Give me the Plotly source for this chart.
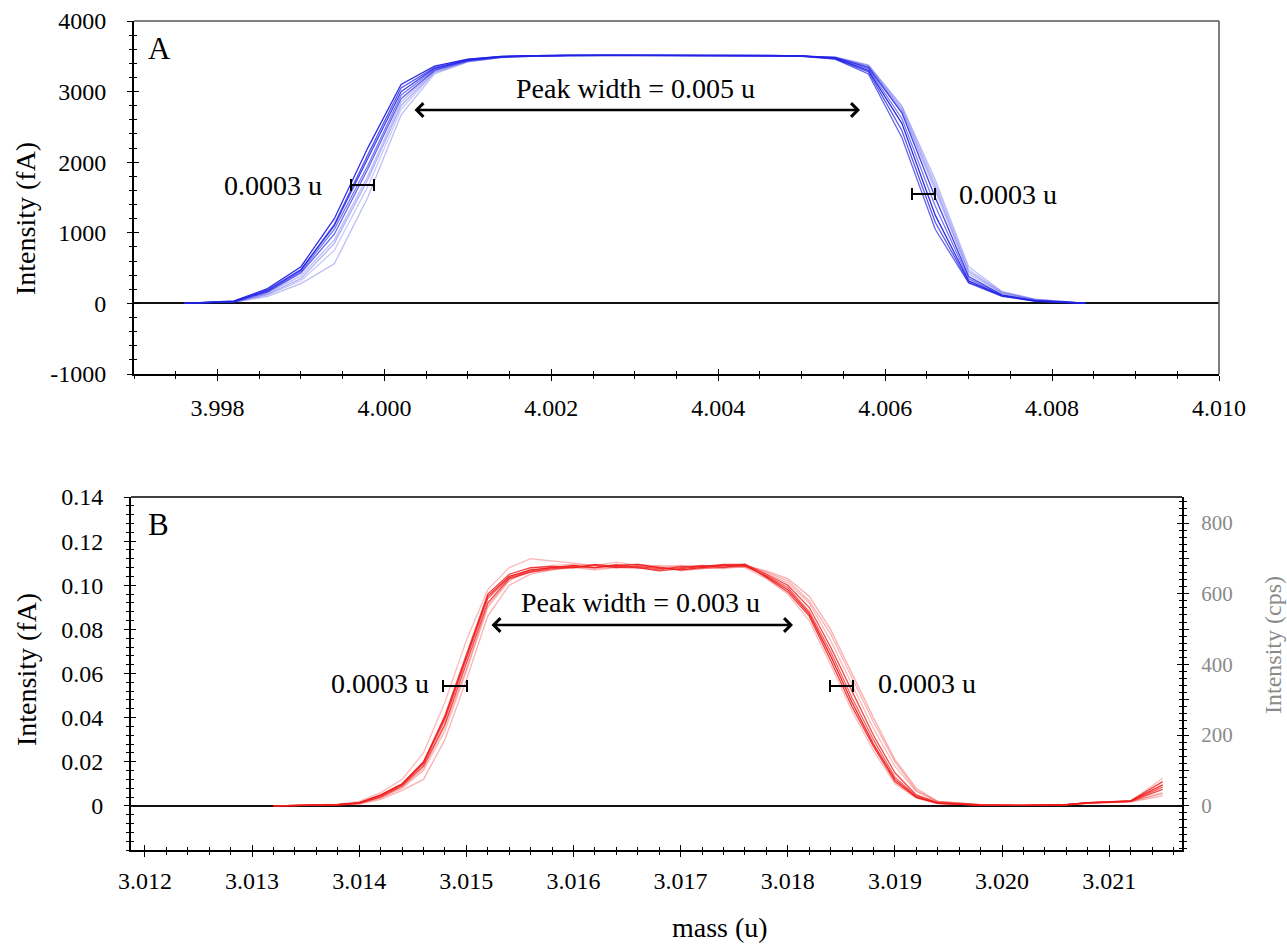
import plotly.graph_objects as go

W, H = 1287, 945
FONT = "Liberation Serif, Times New Roman, Tinos, serif"

# ---------------- data ----------------
mass_a = [3.9976, 3.9978, 3.9982, 3.9986, 3.9990, 3.9994, 3.9998, 4.0002, 4.0006, 4.0010,
          4.0014, 4.0018, 4.0022, 4.0026, 4.0030, 4.0034, 4.0038, 4.0042, 4.0046, 4.0050,
          4.0054, 4.0058, 4.0062, 4.0066, 4.0070, 4.0074, 4.0078, 4.0082, 4.0084]

scans_a = [
    [5, 10, 35, 210, 520, 1200, 2200, 3100, 3360, 3460, 3500, 3510, 3515, 3515, 3515, 3515, 3515, 3515, 3510, 3505, 3470, 3300, 2550, 1250, 320, 110, 35, 10, 5],
    [5, 10, 30, 190, 480, 1100, 2050, 3000, 3330, 3450, 3495, 3510, 3512, 3514, 3515, 3515, 3515, 3514, 3512, 3505, 3480, 3340, 2700, 1500, 380, 120, 40, 12, 5],
    [5, 8, 25, 160, 430, 980, 1900, 2900, 3300, 3440, 3490, 3505, 3510, 3512, 3512, 3513, 3513, 3512, 3510, 3500, 3460, 3250, 2350, 1050, 290, 100, 30, 8, 5],
    [5, 8, 25, 170, 450, 1050, 1950, 2950, 3320, 3445, 3492, 3508, 3512, 3514, 3514, 3514, 3514, 3512, 3510, 3503, 3475, 3320, 2620, 1380, 350, 115, 38, 10, 5],
    [4, 6, 20, 130, 350, 850, 1750, 2800, 3280, 3430, 3485, 3505, 3510, 3512, 3512, 3512, 3512, 3511, 3509, 3502, 3485, 3360, 2750, 1650, 450, 150, 50, 15, 5],
    [3, 5, 15, 100, 280, 560, 1500, 2670, 3250, 3420, 3480, 3502, 3508, 3510, 3510, 3510, 3510, 3510, 3508, 3500, 3490, 3380, 2800, 1750, 520, 170, 60, 18, 5],
    [5, 9, 28, 180, 470, 1120, 2100, 3050, 3340, 3455, 3497, 3510, 3513, 3515, 3515, 3515, 3515, 3513, 3511, 3504, 3465, 3280, 2450, 1150, 300, 105, 33, 10, 5],
    [4, 7, 22, 145, 390, 900, 1800, 2850, 3300, 3435, 3488, 3506, 3511, 3513, 3513, 3513, 3513, 3512, 3510, 3502, 3482, 3350, 2720, 1600, 420, 140, 45, 13, 5],
    [4, 6, 18, 120, 320, 750, 1650, 2750, 3270, 3425, 3483, 3504, 3509, 3511, 3511, 3511, 3511, 3510, 3508, 3501, 3488, 3370, 2780, 1700, 480, 160, 55, 16, 5],
]
alpha_a = [0.95, 0.85, 0.7, 0.6, 0.35, 0.3, 0.75, 0.3, 0.25]

mass_b = [3.0132, 3.0136, 3.0138, 3.0140, 3.0142, 3.0144, 3.0146, 3.0148, 3.0150, 3.0152,
          3.0154, 3.0156, 3.0158, 3.0160, 3.0162, 3.0164, 3.0166, 3.0168, 3.0170, 3.0172,
          3.0174, 3.0176, 3.0178, 3.0180, 3.0182, 3.0184, 3.0186, 3.0188, 3.0190, 3.0192,
          3.0194, 3.0198, 3.0202, 3.0206, 3.0208, 3.0212, 3.0215]

scans_b = [
    [0, 0.0003, 0.0006, 0.0015, 0.005, 0.010, 0.020, 0.040, 0.068, 0.095, 0.104, 0.107, 0.108, 0.109, 0.108, 0.109, 0.1095, 0.108, 0.107, 0.108, 0.109, 0.109, 0.104, 0.098, 0.087, 0.068, 0.047, 0.028, 0.012, 0.004, 0.0012, 0.0003, 0.0002, 0.0006, 0.0015, 0.0022, 0.0095],
    [0, 0.0002, 0.0005, 0.0012, 0.004, 0.009, 0.018, 0.037, 0.064, 0.092, 0.103, 0.106, 0.1075, 0.108, 0.109, 0.108, 0.1085, 0.1075, 0.108, 0.109, 0.108, 0.1095, 0.105, 0.100, 0.090, 0.072, 0.052, 0.032, 0.015, 0.005, 0.0015, 0.0004, 0.0002, 0.0005, 0.0013, 0.002, 0.0075],
    [0, 0.0004, 0.0008, 0.002, 0.006, 0.012, 0.024, 0.047, 0.075, 0.098, 0.108, 0.112, 0.111, 0.110, 0.109, 0.1105, 0.109, 0.108, 0.109, 0.108, 0.1085, 0.108, 0.103, 0.096, 0.084, 0.064, 0.043, 0.025, 0.010, 0.0035, 0.001, 0.0003, 0.0002, 0.0006, 0.0014, 0.0021, 0.0125],
    [0, 0.0001, 0.0003, 0.0008, 0.003, 0.007, 0.012, 0.030, 0.057, 0.086, 0.100, 0.105, 0.107, 0.108, 0.107, 0.108, 0.109, 0.108, 0.107, 0.1075, 0.108, 0.109, 0.1065, 0.103, 0.095, 0.080, 0.060, 0.040, 0.021, 0.008, 0.002, 0.0005, 0.0002, 0.0004, 0.0012, 0.0018, 0.0045],
    [0, 0.0002, 0.0005, 0.0013, 0.0045, 0.0095, 0.019, 0.039, 0.066, 0.094, 0.1035, 0.1065, 0.108, 0.1085, 0.108, 0.1095, 0.108, 0.107, 0.1085, 0.1085, 0.109, 0.1085, 0.1045, 0.099, 0.088, 0.070, 0.049, 0.030, 0.013, 0.0045, 0.0013, 0.0004, 0.0002, 0.0005, 0.0014, 0.0021, 0.0085],
    [0, 0.0002, 0.0004, 0.001, 0.0035, 0.008, 0.016, 0.034, 0.061, 0.090, 0.102, 0.1075, 0.109, 0.1095, 0.109, 0.108, 0.1075, 0.109, 0.1085, 0.108, 0.1075, 0.1085, 0.1055, 0.101, 0.092, 0.075, 0.055, 0.035, 0.018, 0.0065, 0.0018, 0.0005, 0.0002, 0.0005, 0.0012, 0.0019, 0.006],
    [0, 0.0003, 0.0006, 0.0014, 0.0048, 0.0098, 0.0195, 0.041, 0.069, 0.096, 0.105, 0.108, 0.1085, 0.108, 0.1095, 0.1085, 0.108, 0.1065, 0.1075, 0.1085, 0.1095, 0.1095, 0.1035, 0.097, 0.086, 0.066, 0.045, 0.027, 0.011, 0.0038, 0.0011, 0.0003, 0.0002, 0.0006, 0.0015, 0.0023, 0.011],
    [0, 0.0002, 0.0004, 0.0011, 0.004, 0.0085, 0.017, 0.036, 0.062, 0.091, 0.1025, 0.106, 0.107, 0.1085, 0.1075, 0.1085, 0.1095, 0.1085, 0.1065, 0.1075, 0.1085, 0.109, 0.106, 0.102, 0.093, 0.078, 0.058, 0.038, 0.020, 0.007, 0.002, 0.0005, 0.0002, 0.0005, 0.0013, 0.002, 0.0055],
]
alpha_b = [0.95, 0.8, 0.3, 0.35, 0.7, 0.3, 0.85, 0.35]

yticks_a = [-1000, 0, 1000, 2000, 3000, 4000]
yticks_a_text = ["-1000", "0", "1000", "2000", "3000", "4000"]
yticks_b = [0, 0.02, 0.04, 0.06, 0.08, 0.10, 0.12, 0.14]
yticks_b_text = ["0", "0.02", "0.04", "0.06", "0.08", "0.10", "0.12", "0.14"]
yticks_cps = [0, 100, 200, 300, 400, 500, 600, 700, 800]
yticks_cps_text = ["0", "", "200", "", "400", "", "600", "", "800"]

# ---------------- helpers ----------------
def px(x, y):
    return x / W, 1 - y / H

def dom_x(l, r):
    return [l / W, r / W]

def dom_y(t, b):
    return [1 - b / H, 1 - t / H]

fig = go.Figure()

for ys, a in zip(scans_a, alpha_a):
    fig.add_trace(go.Scatter(x=mass_a, y=ys, mode="lines", xaxis="x", yaxis="y",
                             line=dict(color=f"rgba(35,35,230,{a})", width=1.3),
                             hoverinfo="skip", showlegend=False))
for ys, a in zip(scans_b, alpha_b):
    fig.add_trace(go.Scatter(x=mass_b, y=ys, mode="lines", xaxis="x2", yaxis="y2",
                             line=dict(color=f"rgba(240,30,30,{a})", width=1.3),
                             hoverinfo="skip", showlegend=False))

# empty traces so that the tick-only overlay axes are created
for xa, ya in [("x3", "y"), ("x", "y3"), ("x4", "y2"), ("x2", "y4"), ("x2", "y5"), ("x2", "y6")]:
    fig.add_trace(go.Scatter(x=[], y=[], xaxis=xa, yaxis=ya, mode="lines",
                             hoverinfo="skip", showlegend=False))

tickfont = dict(family=FONT, size=24, color="black")
MAJ, MIN = 5, 3

common = dict(showgrid=False, fixedrange=True, automargin=False)

xa_range = [3.997, 4.010]
ya_range = [-1000, 4000]
xb_range = [3.01187, 3.02168]
yb_range = [-0.02, 0.14]
ycps_range = [-125, 873.6]

xa_ticks = dict(tickmode="linear", tick0=3.998, dtick=0.002, tickformat=".3f")
xb_ticks = dict(tickmode="linear", tick0=3.012, dtick=0.001, tickformat=".3f")

layout = dict(
    template="none",
    font=dict(family=FONT, size=24, color="black"),
    width=W, height=H, margin=dict(l=0, r=0, t=0, b=0, pad=0), autosize=False,
    paper_bgcolor="white", plot_bgcolor="white", showlegend=False,
    # ---- panel A ----
    xaxis=dict(domain=dom_x(134, 1219), anchor="y", range=xa_range, **xa_ticks,
               ticks="outside", ticklen=MAJ, tickwidth=1.3, tickcolor="black",
               minor=dict(ticks="outside", ticklen=MIN, dtick=0.0005, tick0=3.998, tickcolor="black"),
               showline=True, linecolor="black", linewidth=2, zeroline=False,
               tickfont=tickfont, ticklabelstandoff=6, **common),
    yaxis=dict(domain=dom_y(21, 374), anchor="x", range=ya_range,
               tickmode="array", tickvals=yticks_a, ticktext=yticks_a_text,
               ticks="outside", ticklen=MAJ, tickwidth=1.3, tickcolor="black",
               minor=dict(ticks="outside", ticklen=MIN, tickmode="linear", tick0=0, dtick=200, tickcolor="black"),
               showline=True, linecolor="black", linewidth=2,
               zeroline=True, zerolinecolor="#111", zerolinewidth=2,
               tickfont=tickfont, ticklabelstandoff=16, **common),
    xaxis3=dict(overlaying="x", anchor="y", side="bottom", range=xa_range, **xa_ticks,
                ticks="inside", ticklen=MAJ, tickwidth=1.3, tickcolor="black",
                minor=dict(ticks="inside", ticklen=MIN, dtick=0.0005, tick0=3.998, tickcolor="black"),
                showticklabels=False, showline=False, zeroline=False, **common),
    yaxis3=dict(overlaying="y", anchor="x", side="left", range=ya_range,
                tickmode="array", tickvals=yticks_a, ticktext=yticks_a_text,
                ticks="inside", ticklen=MAJ, tickwidth=1.3, tickcolor="black",
                minor=dict(ticks="inside", ticklen=MIN, tickmode="linear", tick0=0, dtick=200, tickcolor="black"),
                showticklabels=False, showline=False, zeroline=False, **common),
    # ---- panel B ----
    xaxis2=dict(domain=dom_x(131, 1182), anchor="y2", range=xb_range, **xb_ticks,
                ticks="outside", ticklen=MAJ, tickwidth=1.3, tickcolor="black",
                minor=dict(ticks="outside", ticklen=MIN, dtick=0.0002, tick0=3.012, tickcolor="black"),
                showline=True, linecolor="black", linewidth=2, zeroline=False,
                tickfont=tickfont, ticklabelstandoff=3, **common),
    yaxis2=dict(domain=dom_y(497, 850), anchor="x2", range=yb_range,
                tickmode="array", tickvals=yticks_b, ticktext=yticks_b_text,
                ticks="outside", ticklen=MAJ, tickwidth=1.3, tickcolor="black",
                minor=dict(ticks="outside", ticklen=MIN, tickmode="linear", tick0=0, dtick=0.004, tickcolor="black"),
                showline=True, linecolor="black", linewidth=2,
                zeroline=True, zerolinecolor="#111", zerolinewidth=2,
                tickfont=tickfont, ticklabelstandoff=16, **common),
    xaxis4=dict(overlaying="x2", anchor="y2", side="bottom", range=xb_range, **xb_ticks,
                ticks="inside", ticklen=MAJ, tickwidth=1.3, tickcolor="black",
                minor=dict(ticks="inside", ticklen=MIN, dtick=0.0002, tick0=3.012, tickcolor="black"),
                showticklabels=False, showline=False, zeroline=False, **common),
    yaxis5=dict(overlaying="y2", anchor="x2", side="left", range=yb_range,
                tickmode="array", tickvals=yticks_b, ticktext=yticks_b_text,
                ticks="inside", ticklen=MAJ, tickwidth=1.3, tickcolor="black",
                minor=dict(ticks="inside", ticklen=MIN, tickmode="linear", tick0=0, dtick=0.004, tickcolor="black"),
                showticklabels=False, showline=False, zeroline=False, **common),
    yaxis4=dict(overlaying="y2", anchor="x2", side="right", range=ycps_range,
                tickmode="array", tickvals=yticks_cps, ticktext=yticks_cps_text,
                ticks="outside", ticklen=MAJ, tickwidth=1.3, tickcolor="black",
                minor=dict(ticks="outside", ticklen=MIN, tickmode="linear", tick0=0, dtick=20, tickcolor="black"),
                showline=True, linecolor="black", linewidth=2, zeroline=False,
                tickfont=dict(family=FONT, size=21, color="#8a8a8a"), ticklabelstandoff=8, **common),
    yaxis6=dict(overlaying="y2", anchor="x2", side="right", range=ycps_range,
                tickmode="array", tickvals=yticks_cps, ticktext=yticks_cps_text,
                ticks="inside", ticklen=MAJ, tickwidth=1.3, tickcolor="black",
                minor=dict(ticks="inside", ticklen=MIN, tickmode="linear", tick0=0, dtick=20, tickcolor="black"),
                showticklabels=False, showline=False, zeroline=False, **common),
)
fig.update_layout(**layout)

# frame lines
shapes = []
def pline(x0, y0, x1, y1, color="black", width=2):
    a0, b0 = px(x0, y0)
    a1, b1 = px(x1, y1)
    shapes.append(dict(type="line", xref="paper", yref="paper", x0=a0, y0=b0, x1=a1, y1=b1,
                       line=dict(color=color, width=width), layer="above"))

pline(134, 21, 1219, 21, "#555", 1.5)
pline(1219, 21, 1219, 374, "#555", 1.5)
pline(131, 497, 1182, 497, "black", 1.5)

# width bars |--|
def wbar(x0, x1, y):
    pline(x0, y, x1, y, "black", 2)
    pline(x0, y - 6, x0, y + 6, "black", 2)
    pline(x1, y - 6, x1, y + 6, "black", 2)

wbar(351, 374, 185)
wbar(912, 935, 194)
wbar(443, 467, 686)
wbar(830, 853, 686)
fig.update_layout(shapes=shapes)

ann = []
def text(t, x, y, size=28, xanchor="center", color="black", angle=0):
    a, b = px(x, y)
    ann.append(dict(text=t, x=a, y=b, xref="paper", yref="paper", showarrow=False,
                    xanchor=xanchor, yanchor="middle", textangle=angle,
                    font=dict(family=FONT, size=size, color=color)))

text("A", 159, 48, 31)
text("B", 158, 524, 31)
text("Peak width = 0.005 u", 635, 88)
text("Peak width = 0.003 u", 640, 602)
text("0.0003 u", 324, 185, xanchor="right")
text("0.0003 u", 957, 194, xanchor="left")
text("0.0003 u", 431, 683, xanchor="right")
text("0.0003 u", 876, 683, xanchor="left")
text("Intensity (fA)", 25, 219, angle=-90)
text("Intensity (fA)", 26, 670, angle=-90)
text("Intensity (cps)", 1273, 645, size=24, color="#8a8a8a", angle=-90)
text("mass (u)", 720, 927)

def darrow(x0, x1, y):
    a, b = px(x1, y)
    ann.append(dict(x=a, y=b, xref="paper", yref="paper", ax=-(x1 - x0), ay=0,
                    axref="pixel", ayref="pixel", showarrow=True, arrowhead=4,
                    startarrowhead=4, arrowside="end+start", arrowwidth=2.4,
                    arrowsize=1.1, startarrowsize=1.1, arrowcolor="black", text=""))

darrow(413, 860, 110)
darrow(490, 793, 625)
fig.update_layout(annotations=ann)

fig.write_html("out.html")
